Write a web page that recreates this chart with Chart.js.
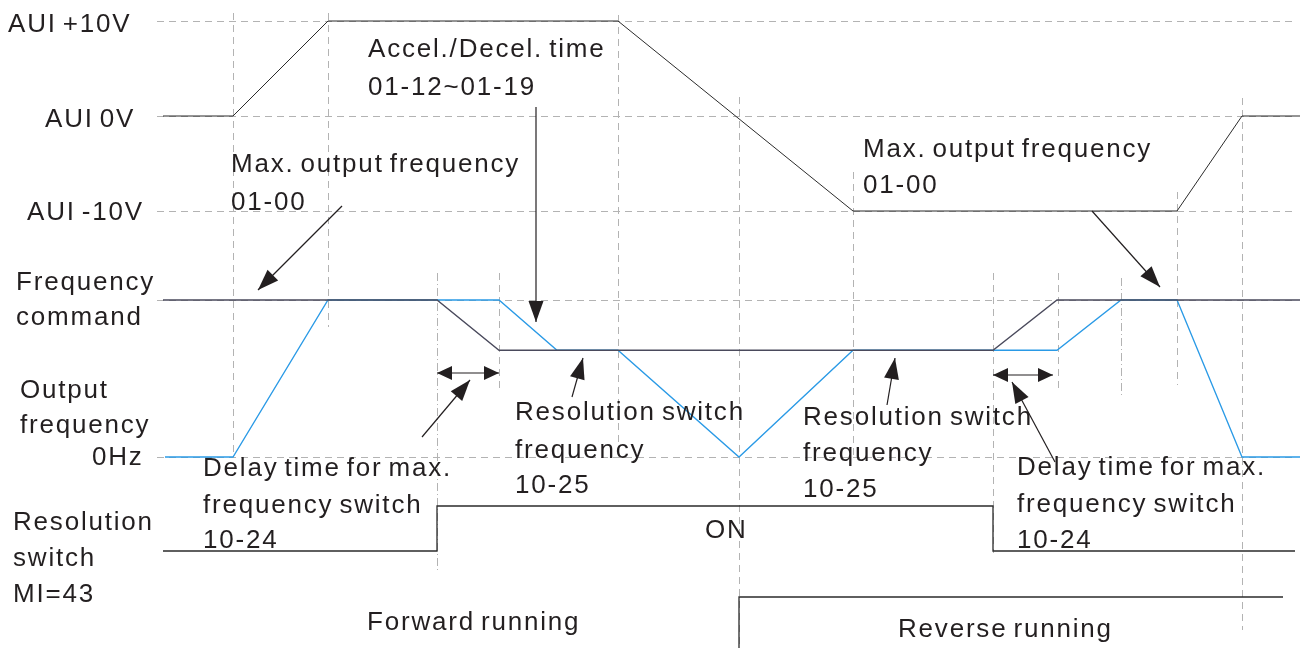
<!DOCTYPE html>
<html lang="en">
<head>
  <meta charset="UTF-8">
  <title>Resolution switch timing</title>
  <script src="https://cdn.jsdelivr.net/npm/chart.js"></script>
  <style>
    html, body { margin: 0; padding: 0; background: #fff; }
    .wrap { width: 1306px; height: 648px; position: relative; }
  </style>
</head>
<body>
  <div class="wrap"><canvas id="timing"></canvas></div>

  <script>
    // Signals (time in diagram units)
    const tAUI = [163, 233, 328, 618, 853, 1177, 1242, 1300];
    const vAUI = [0, 0, 10, 10, -10, -10, 0, 0];              // volts

    const tCmd = [163, 437, 499, 993, 1057, 1300];
    const fCmd = [100, 100, 68, 68, 100, 100];                // % of max freq

    const tOut = [165, 233, 328, 499, 557, 618, 739, 853, 1057, 1121, 1177, 1242, 1300];
    const fOut = [0, 0, 100, 100, 68, 68, 0, 68, 68, 100, 100, 0, 0];

    const tSw = [163, 437, 437, 993, 993, 1295];
    const sSw = [0, 0, 1, 1, 0, 0];                           // MI=43 off/on

    const tDir = [739, 739, 1283];
    const dDir = [0, 1, 1];                                   // 1 = reverse

    const H = 648;
    const INK = '#231f20';
    const GUIDE = '#b3b3b3';

    // map a signal range onto a pixel band of the canvas
    function band(vTop, pTop, vBot, pBot) {
      const k = (vTop - vBot) / (pBot - pTop);
      return { min: vBot - (H - pBot) * k, max: vTop + pTop * k };
    }
    const bV = band(10, 21, -10, 211);
    const bF = band(100, 300, 0, 457);
    const bS = band(1, 506, 0, 551);
    const bD = band(1, 597, 0, 648);

    const pts = (xs, ys) => xs.map((x, i) => ({ x: x, y: ys[i] }));

    // dashed guides: horizontal levels and vertical event markers
    const hGuides = [['yV', 10], ['yV', 0], ['yV', -10], ['yF', 100], ['yF', 0]];
    const vGuides = [
      [233, 13, 457], [328, 13, 327], [437, 273, 570, 'dot'], [499, 273, 392],
      [618, 15, 457], [739, 97, 648], [853, 172, 457], [993, 273, 553],
      [1058, 273, 388], [1121, 278, 398, 'dot'], [1177, 192, 385], [1242, 98, 630]
    ];

    const labels = [
      ['AUI +10V', 8, 32], ['AUI 0V', 45, 127], ['AUI -10V', 27, 220],
      ['Accel./Decel. time', 368, 57], ['01-12~01-19', 368, 95],
      ['Max. output frequency', 231, 172], ['01-00', 231, 210],
      ['Max. output frequency', 863, 157], ['01-00', 863, 193],
      ['Frequency', 16, 290], ['command', 16, 325],
      ['Output', 20, 398], ['frequency', 20, 433], ['0Hz', 92, 465],
      ['Delay time for max.', 203, 476], ['frequency switch', 203, 513], ['10-24', 203, 548],
      ['Resolution', 13, 530], ['switch', 13, 566], ['MI=43', 13, 602],
      ['Resolution switch', 515, 420], ['frequency', 515, 458], ['10-25', 515, 493],
      ['Resolution switch', 803, 425], ['frequency', 803, 461], ['10-25', 803, 497],
      ['ON', 705, 538],
      ['Delay time for max.', 1017, 475], ['frequency switch', 1017, 512], ['10-24', 1017, 548],
      ['Forward running', 367, 630], ['Reverse running', 898, 637]
    ];

    const pointers = [
      [342, 206, 258, 290], [536, 107, 536, 322], [422, 437, 470, 380],
      [572, 397, 583, 358], [887, 405, 895, 358], [1055, 462, 1012, 382],
      [1092, 211, 1160, 287]
    ];
    const spans = [[437, 499, 373], [993, 1053, 375]];

    function head(ctx, x0, y0, x1, y1, L, W) {
      const a = Math.atan2(y1 - y0, x1 - x0);
      ctx.beginPath();
      ctx.moveTo(x1, y1);
      ctx.lineTo(x1 - L * Math.cos(a) + W * Math.sin(a), y1 - L * Math.sin(a) - W * Math.cos(a));
      ctx.lineTo(x1 - L * Math.cos(a) - W * Math.sin(a), y1 - L * Math.sin(a) + W * Math.cos(a));
      ctx.closePath();
      ctx.fill();
    }

    const diagram = {
      id: 'diagram',
      beforeDatasetsDraw(chart) {
        const ctx = chart.ctx, sx = chart.scales.x;
        ctx.save();
        ctx.strokeStyle = GUIDE;
        ctx.lineWidth = 1;
        hGuides.forEach(([axis, v]) => {
          const y = Math.round(chart.scales[axis].getPixelForValue(v)) + 0.5;
          ctx.setLineDash([7, 5]);
          ctx.beginPath(); ctx.moveTo(157, y); ctx.lineTo(1295, y); ctx.stroke();
        });
        vGuides.forEach(([t, y0, y1, kind]) => {
          const x = Math.round(sx.getPixelForValue(t)) + 0.5;
          ctx.setLineDash(kind === 'dot' ? [8, 3, 1, 3] : [7, 5]);
          ctx.beginPath(); ctx.moveTo(x, y0); ctx.lineTo(x, y1); ctx.stroke();
        });
        ctx.restore();
      },
      afterDatasetsDraw(chart) {
        const ctx = chart.ctx, sx = chart.scales.x;
        ctx.save();
        ctx.fillStyle = INK;
        ctx.strokeStyle = INK;
        ctx.lineWidth = 1.2;
        pointers.forEach(([x0, y0, x1, y1]) => {
          ctx.beginPath(); ctx.moveTo(x0, y0); ctx.lineTo(x1, y1); ctx.stroke();
          head(ctx, x0, y0, x1, y1, 21, 7.5);
        });
        spans.forEach(([a, b, y]) => {
          const xa = sx.getPixelForValue(a), xb = sx.getPixelForValue(b);
          ctx.beginPath(); ctx.moveTo(xa, y); ctx.lineTo(xb, y); ctx.stroke();
          head(ctx, xb, y, xa, y, 15, 7);
          head(ctx, xa, y, xb, y, 15, 7);
        });
        ctx.font = '26px "Liberation Sans", Arial, sans-serif';
        ctx.letterSpacing = '1.8px';
        ctx.wordSpacing = '-3px';
        ctx.textBaseline = 'alphabetic';
        labels.forEach(([s, x, y]) => ctx.fillText(s, x, y));
        ctx.restore();
      }
    };

    new Chart('timing', {
      type: 'line',
      data: {
        datasets: [
          { label: 'AUI', data: pts(tAUI, vAUI), yAxisID: 'yV', borderColor: '#2b2b2b', borderWidth: 1 },
          { label: 'Frequency command', data: pts(tCmd, fCmd), yAxisID: 'yF', borderColor: '#4a4a5c', borderWidth: 1.3 },
          { label: 'Output frequency', data: pts(tOut, fOut), yAxisID: 'yF', borderColor: '#2a9ae6', borderWidth: 1.3 },
          { label: 'Resolution switch', data: pts(tSw, sSw), yAxisID: 'yS', borderColor: '#2b2b2b', borderWidth: 1.3 },
          { label: 'Running direction', data: pts(tDir, dDir), yAxisID: 'yD', borderColor: '#2b2b2b', borderWidth: 1.3 }
        ]
      },
      options: {
        responsive: true,
        maintainAspectRatio: false,
        animation: false,
        layout: { padding: 0 },
        elements: { point: { radius: 0 }, line: { tension: 0 } },
        scales: {
          x: { type: 'linear', min: 0, max: 1306, display: false },
          yV: { type: 'linear', min: bV.min, max: bV.max, display: false },
          yF: { type: 'linear', min: bF.min, max: bF.max, display: false },
          yS: { type: 'linear', min: bS.min, max: bS.max, display: false },
          yD: { type: 'linear', min: bD.min, max: bD.max, display: false }
        },
        plugins: { legend: { display: false }, tooltip: { enabled: false } }
      },
      plugins: [diagram]
    });
  </script>
</body>
</html>
